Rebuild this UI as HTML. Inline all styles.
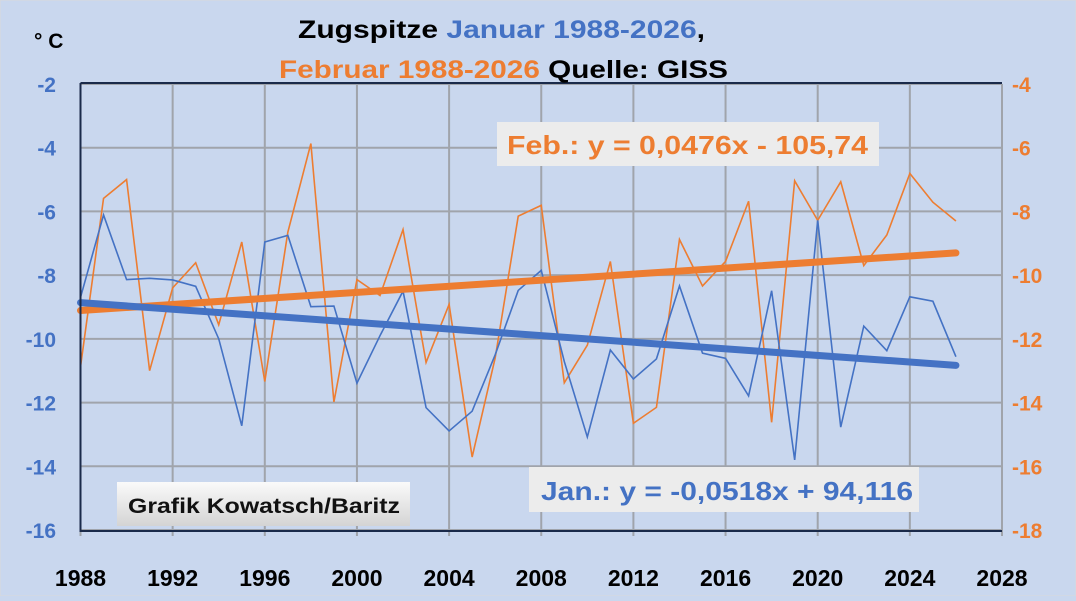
<!DOCTYPE html>
<html><head><meta charset="utf-8"><style>
body{margin:0;width:1076px;height:596px;overflow:hidden;background:#c9d7ee;font-family:"Liberation Sans",sans-serif}
svg text{font-family:"Liberation Sans",sans-serif;font-weight:bold}
</style></head><body>
<svg id="chart" width="1076" height="596">
<rect x="0" y="0" width="1076" height="596" fill="#c9d7ee" stroke="#d9d9d9"/>
<g id="grid"></g>
<g id="series"></g>
<g id="axes"></g>
<text x="34" y="48" font-size="21" fill="#000">° C</text>
<text x="298" y="38" font-size="25" fill="#000" textLength="407" lengthAdjust="spacingAndGlyphs">Zugspitze <tspan fill="#4472c4">Januar 1988-2026</tspan>,</text>
<text x="279" y="78" font-size="25" fill="#ed7d31" textLength="449" lengthAdjust="spacingAndGlyphs">Februar 1988-2026 <tspan fill="#000">Quelle: GISS</tspan></text>
<rect x="497" y="122" width="382" height="44" fill="#ececec"/>
<text x="507" y="154" font-size="26" fill="#ed7d31" textLength="361" lengthAdjust="spacingAndGlyphs">Feb.: y = 0,0476x - 105,74</text>
<rect x="529" y="467" width="390" height="45" fill="#ececec"/>
<text x="541" y="500" font-size="26" fill="#4472c4" textLength="372" lengthAdjust="spacingAndGlyphs">Jan.: y = -0,0518x + 94,116</text>
<defs><linearGradient id="gb" x1="0" y1="0" x2="0" y2="1"><stop offset="0" stop-color="#fafafa"/><stop offset="1" stop-color="#d4d4d4"/></linearGradient></defs>
<rect x="117" y="482" width="293" height="44" fill="url(#gb)"/>
<text x="128" y="513" font-size="21" fill="#111" textLength="272" lengthAdjust="spacingAndGlyphs">Grafik Kowatsch/Baritz</text>
</svg>
<script>
const years=[1988,1989,1990,1991,1992,1993,1994,1995,1996,1997,1998,1999,2000,2001,2002,2003,2004,2005,2006,2007,2008,2009,2010,2011,2012,2013,2014,2015,2016,2017,2018,2019,2020,2021,2022,2023,2024,2025,2026];
const janValues=[-8.7,-6.11,-8.14,-8.1,-8.15,-8.35,-10.0,-12.73,-6.96,-6.75,-8.99,-8.97,-11.39,-9.9,-8.5,-12.16,-12.89,-12.27,-10.5,-8.48,-7.85,-10.71,-13.08,-10.35,-11.26,-10.63,-8.34,-10.45,-10.61,-11.79,-8.49,-13.8,-6.28,-12.77,-9.6,-10.37,-8.68,-8.82,-10.56];
const febValues=[-12.88,-7.59,-7.0,-13.0,-10.4,-9.61,-11.56,-8.96,-13.34,-8.65,-5.87,-13.98,-10.14,-10.64,-8.57,-12.74,-10.92,-15.71,-12.6,-8.15,-7.81,-13.38,-12.2,-9.57,-14.65,-14.15,-8.88,-10.34,-9.57,-7.68,-14.62,-7.04,-8.28,-7.07,-9.7,-8.74,-6.81,-7.71,-8.3];
const janTrend=[-0.0518,94.116];
const febTrend=[0.0476,-105.74];
const xTicks=[1988,1992,1996,2000,2004,2008,2012,2016,2020,2024,2028];
const leftTicks=[-2,-4,-6,-8,-10,-12,-14,-16];
const rightTicks=[-4,-6,-8,-10,-12,-14,-16,-18];
const NS='http://www.w3.org/2000/svg';
const X0=80.5,X1=1002,YT=84,YB=530;
const xs=y=>X0+(y-1988)/(2028-1988)*(X1-X0);
const yl=v=>YT+(-2-v)/14*(YB-YT);
const yr=v=>YT+(-4-v)/14*(YB-YT);
function mk(tag,attrs,parent){const e=document.createElementNS(NS,tag);for(const k in attrs)e.setAttribute(k,attrs[k]);document.getElementById(parent).appendChild(e);return e;}
xTicks.forEach(t=>{
 const l=mk('line',{x1:xs(t),x2:xs(t),y1:YT,y2:YB+6,stroke:'#a0a4ab','stroke-width':2},'grid');
 
 
 const tx=mk('text',{x:xs(t),y:586,'text-anchor':'middle','font-size':23,fill:'#000'},'axes');
 tx.textContent=t;
 
 
});
leftTicks.forEach(t=>{
 const l=mk('line',{x1:X0,x2:X1,y1:yl(t),y2:yl(t),stroke:'#a0a4ab','stroke-width':2},'grid');
 
 
 const tx=mk('text',{x:56,y:yl(t)+8,'text-anchor':'end','font-size':21,fill:'#4472c4'},'axes');
 tx.textContent=t;
 
 
});
rightTicks.forEach(t=>{
 const tx=mk('text',{x:1012,y:yr(t)+8,'text-anchor':'start','font-size':21,fill:'#ed7d31'},'axes');
 tx.textContent=t;
 
 
});
const ax=mk('path',{d:`M${X0},${YT-1}V${YB+1}H${X1}M${X0},${YT-1}H${X1}`,stroke:'#1a2a4a','stroke-width':2,fill:'none'},'axes');


const febLine=mk('polyline',{points:years.map((y,i)=>xs(y)+','+yr(febValues[i])).join(' '),fill:'none',stroke:'#ed7d31','stroke-width':1.6},'series');


const janLine=mk('polyline',{points:years.map((y,i)=>xs(y)+','+yl(janValues[i])).join(' '),fill:'none',stroke:'#4472c4','stroke-width':1.6},'series');


const ya=years[0],yb=years[years.length-1];
const ft=mk('line',{x1:xs(ya),y1:yr(febTrend[0]*ya+febTrend[1]),x2:xs(yb),y2:yr(febTrend[0]*yb+febTrend[1]),stroke:'#ed7d31','stroke-width':7,'stroke-linecap':'round'},'series');


const jt=mk('line',{x1:xs(ya),y1:yl(janTrend[0]*ya+janTrend[1]),x2:xs(yb),y2:yl(janTrend[0]*yb+janTrend[1]),stroke:'#4472c4','stroke-width':7,'stroke-linecap':'round'},'series');


</script>
</body></html>
